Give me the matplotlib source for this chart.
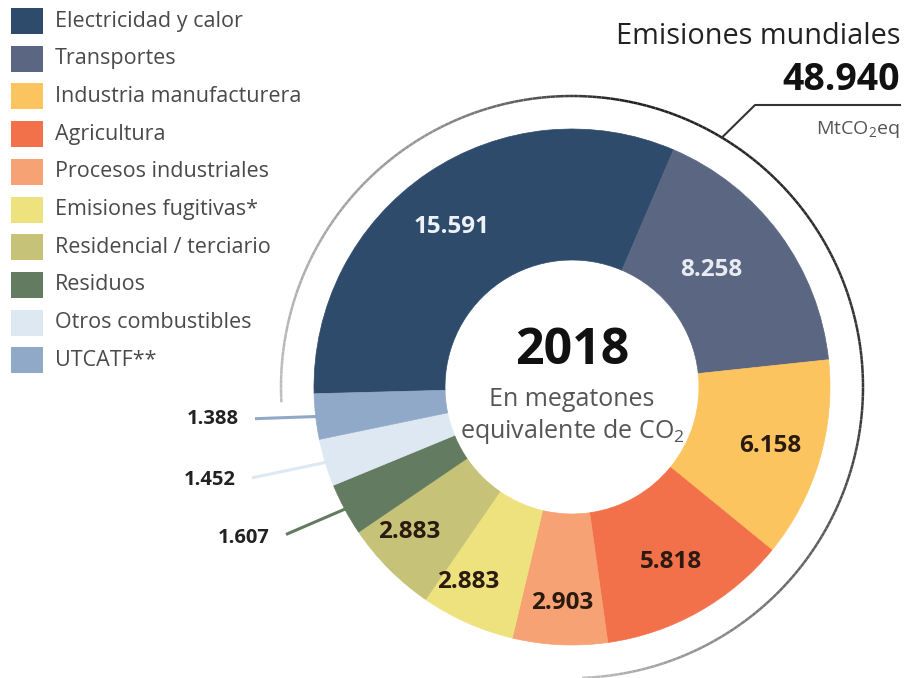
import numpy as np
import matplotlib
matplotlib.use('Agg')
import matplotlib.pyplot as plt
from matplotlib.patches import Rectangle
from matplotlib.collections import LineCollection

plt.rcParams['font.family'] = ['Open Sans', 'DejaVu Sans']
plt.rcParams['mathtext.fontset'] = 'custom'
plt.rcParams['mathtext.rm'] = 'Open Sans'
plt.rcParams['mathtext.it'] = 'Open Sans:italic'

# data
sectors = ['Electricidad y calor', 'Transportes', 'Industria manufacturera',
           'Agricultura', 'Procesos industriales', 'Emisiones fugitivas*',
           'Residencial / terciario', 'Residuos', 'Otros combustibles', 'UTCATF**']
values = [15591, 8258, 6158, 5818, 2903, 2883, 2883, 1607, 1452, 1388]
value_labels = ['15.591', '8.258', '6.158', '5.818', '2.903', '2.883',
                '2.883', '1.607', '1.452', '1.388']
total_label = '48.940'
year = '2018'

colors = ['#2f4b6c', '#5b6782', '#fcc45f', '#f2704a', '#f7a274', '#eee27e',
          '#c6c277', '#637b60', '#dde8f3', '#91a9c9']
label_colors = ['#eef2f6', '#e8ecf2'] + ['#2a1a10'] * 5
label_r = [0.775, 0.705, 0.80, 0.78, 0.84, 0.857, 0.845]
label_da = [2.7, 3.4, 0, 0, 0, -4, -3]

W, H = 907, 678
cx, cy = 572, H - 387
R, r_in = 258, 127

fig = plt.figure(figsize=(W / 100, H / 100), dpi=100)
ax = fig.add_axes([0, 0, 1, 1])

wedges, _ = ax.pie(values, colors=colors, startangle=181.5, counterclock=False,
                   radius=R, center=(cx, cy),
                   wedgeprops=dict(width=R - r_in, linewidth=0.5))
for w, c in zip(wedges, colors):
    w.set_edgecolor(c)
ax.set_xlim(0, W)
ax.set_ylim(0, H)
ax.set_aspect('equal')
ax.axis('off')

def mid(w, da=0):
    return np.deg2rad((w.theta1 + w.theta2) / 2 + da)

# inside labels
for i, w in enumerate(wedges[:7]):
    a = mid(w, label_da[i])
    ax.text(cx + label_r[i] * R * np.cos(a), cy + label_r[i] * R * np.sin(a),
            value_labels[i], ha='center', va='center', fontsize=17.5,
            fontweight='bold', color=label_colors[i])

# outside labels with leaders
out_pos = [(244, H - 538), (210, H - 480), (213, H - 419)]
for k, i in enumerate([7, 8, 9]):
    w = wedges[i]
    a = mid(w)
    ex, ey = cx + (R - 2) * np.cos(a), cy + (R - 2) * np.sin(a)
    tx, ty = out_pos[k]
    ax.plot([tx + 42, ex], [ty + (ey - ty) * 0.12, ey], color=colors[i], lw=2.2,
            solid_capstyle='butt')
    ax.text(tx, ty, value_labels[i], ha='center', va='center', fontsize=14.5,
            fontweight='bold', color='#222222')

# outer ring with shading
ring_r = 291
ang = np.linspace(np.deg2rad(183), np.deg2rad(-88), 300)
pts = np.column_stack([cx + ring_r * np.cos(ang), cy + ring_r * np.sin(ang)])
segs = np.stack([pts[:-1], pts[1:]], axis=1)
deg = np.rad2deg(ang[:-1])
shade = np.interp(-deg, [-183, -120, -80, 0, 40, 88], [0.75, 0.58, 0.12, 0.22, 0.4, 0.75])
ax.add_collection(LineCollection(segs, colors=[(s, s, s) for s in shade], linewidths=1.8))

# total leader
a0 = np.deg2rad(59)
lx, ly = cx + ring_r * np.cos(a0), cy + ring_r * np.sin(a0)
ax.plot([lx, 755, 900], [ly, H - 105, H - 105], color='#333333', lw=1.5)

ax.text(900, H - 37, 'Emisiones mundiales', ha='right', va='center', fontsize=20.8, color='#222222')
ax.text(900, H - 80, total_label, ha='right', va='center', fontsize=27, fontweight='bold', color='#111111')
ax.text(900, H - 130, r'MtCO$_\mathrm{2}$eq', ha='right', va='center', fontsize=14, color='#555555')

# centre
ax.text(cx, H - 351, year, ha='center', va='center', fontsize=36, fontweight='bold', color='#111111')
ax.text(cx, H - 400, 'En megatones', ha='center', va='center', fontsize=18, color='#555555')
ax.text(cx, H - 431, r'equivalente de CO$_\mathrm{2}$', ha='center', va='center', fontsize=18, color='#555555')

# legend
for i, s in enumerate(sectors):
    yc = H - (21 + i * 37.7)
    ax.add_patch(Rectangle((11, yc - 13), 32, 26, color=colors[i], lw=0))
    ax.text(55, yc, s, ha='left', va='center', fontsize=15.5, color='#4a4a4a')

fig.savefig('out.png', dpi=100)
